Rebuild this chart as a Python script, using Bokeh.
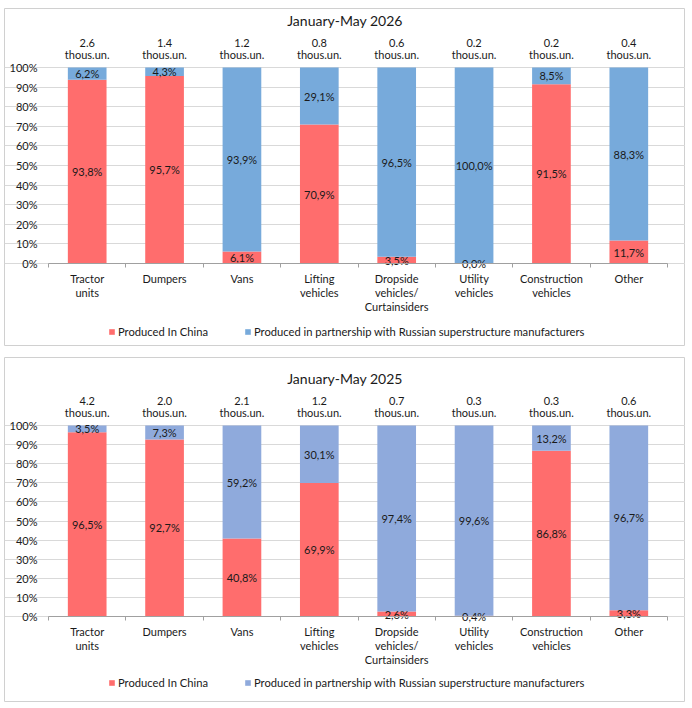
from bokeh.plotting import figure
from bokeh.models import (ColumnDataSource, Range1d, LinearAxis, FixedTicker, Grid,
                          NumeralTickFormatter, Legend, LegendItem)
from bokeh.layouts import column
from bokeh.embed import file_html
from bokeh.resources import INLINE
from bokeh.core.properties import value

# ---------------- data ----------------
categories = ["Tractor\nunits", "Dumpers", "Vans", "Lifting\nvehicles",
              "Dropside\nvehicles/\nCurtainsiders", "Utility\nvehicles",
              "Construction\nvehicles", "Other"]

title_2026 = "January-May 2026"
china_2026 = [93.8, 95.7, 6.1, 70.9, 3.5, 0.0, 91.5, 11.7]
partner_2026 = [6.2, 4.3, 93.9, 29.1, 96.5, 100.0, 8.5, 88.3]
total_2026 = [2.6, 1.4, 1.2, 0.8, 0.6, 0.2, 0.2, 0.4]

title_2025 = "January-May 2025"
china_2025 = [96.5, 92.7, 40.8, 69.9, 2.6, 0.4, 86.8, 3.3]
partner_2025 = [3.5, 7.3, 59.2, 30.1, 97.4, 99.6, 13.2, 96.7]
total_2025 = [4.2, 2.0, 2.1, 1.2, 0.7, 0.3, 0.3, 0.6]

unit_label = "thous.un."
legend_china = "Produced In China"
legend_partner = "Produced in partnership with Russian superstructure manufacturers"

# ---------------- style / layout (pixels) ----------------
FONT = "Lato"
RED = "#FF6D6D"
BLUE_2026 = "#77AADB"
BLUE_2025 = "#8FAADC"
TXT = "#1a1a1a"
W = 681            # panel width (panel border drawn as the frame outline)
PLOT_L = 44        # plot area left, from panel left
PLOT_R = 663       # plot area right, from panel left


def fmt(v):
    return ("%.1f" % v).replace(".", ",") + "%"


def make_panel(title, china, partner, totals, blue, H, top100, zero,
               label_standoff, legend_y):
    n = len(categories)
    upx = (PLOT_R - PLOT_L) / n          # pixels per category slot
    ppu = zero - top100                  # pixels per 100 %
    x_start = -PLOT_L / upx
    x_end = n + (W - PLOT_R) / upx
    y_end = 1 + top100 / ppu
    y_start = -(H - zero) / ppu
    slot = [i + 0.5 for i in range(n)]

    src = ColumnDataSource(dict(
        x=slot,
        china_top=[c / 100 for c in china],
        total_top=[(c + p) / 100 for c, p in zip(china, partner)],
        china_mid=[c / 200 for c in china],
        partner_mid=[(c + (c + p)) / 200 for c, p in zip(china, partner)],
        china_lbl=[fmt(c) for c in china],
        partner_lbl=[fmt(p) for p in partner],
        total_lbl=["%.1f" % t for t in totals],
        unit_lbl=[unit_label] * n,
        y_tot=[1 + 25 / ppu] * n,
        y_unit=[1 + 13 / ppu] * n,
    ))

    p = figure(width=W, height=H, x_range=Range1d(x_start, x_end),
               y_range=Range1d(y_start, y_end), output_backend="svg",
               toolbar_location=None, x_axis_location=None, y_axis_location=None,
               min_border=0, min_border_left=0, min_border_right=0,
               min_border_top=0, min_border_bottom=0)
    p.outline_line_color = "#d0d0d0"
    p.outline_line_width = 1
    p.background_fill_color = "white"
    p.border_fill_color = "white"
    p.xgrid.visible = False
    p.ygrid.visible = False

    # y axis (percent)
    ya = LinearAxis(ticker=FixedTicker(ticks=[i / 10 for i in range(11)]),
                    formatter=NumeralTickFormatter(format="0%"),
                    fixed_location=0, bounds=(0, 1))
    ya.axis_line_color = None
    ya.major_tick_line_color = None
    ya.minor_tick_line_color = None
    ya.major_tick_out = 0
    ya.major_tick_in = 0
    ya.major_label_standoff = 11
    ya.major_label_text_font = FONT
    ya.major_label_text_font_size = "11px"
    ya.major_label_text_color = TXT
    p.add_layout(ya, "left")
    g = Grid(dimension=1, ticker=ya.ticker, bounds=(0, n),
             grid_line_color="#d9d9d9")
    p.add_layout(g, "center")

    # category axis: labels at slot centres, tick marks between categories
    xa = LinearAxis(ticker=FixedTicker(ticks=slot, minor_ticks=list(range(n + 1))),
                    major_label_overrides={s: lbl for s, lbl in zip(slot, categories)},
                    fixed_location=0, bounds=(0, n))
    xa.axis_line_color = "#a0a0a0"
    xa.major_tick_line_color = None
    xa.minor_tick_line_color = "#a0a0a0"
    xa.minor_tick_out = 4
    xa.minor_tick_in = 0
    xa.major_tick_out = 0
    xa.major_tick_in = 0
    xa.major_label_standoff = label_standoff
    xa.major_label_text_font = FONT
    xa.major_label_text_font_size = "11px"
    xa.major_label_text_color = TXT
    xa.major_label_text_line_height = 1.1
    p.add_layout(xa, "below")

    r1 = p.vbar(x="x", bottom=0, top="china_top", width=0.5, fill_color=RED,
                line_color=None, source=src)
    r2 = p.vbar(x="x", bottom="china_top", top="total_top", width=0.5, fill_color=blue,
                line_color=None, source=src)

    common = dict(text_font=value(FONT), text_font_size="11px", text_color=TXT,
                  text_align="center", text_baseline="middle", source=src)
    p.text(x="x", y="china_mid", text="china_lbl", **common)
    p.text(x="x", y="partner_mid", text="partner_lbl", **common)
    p.text(x="x", y="y_tot", text="total_lbl", **common)
    p.text(x="x", y="y_unit", text="unit_lbl", **common)

    # title, centred on the panel
    title_x = x_start + (W / 2) / upx
    p.text(x=[title_x], y=[1 + 47 / ppu], text=[title],
           text_font=value(FONT), text_font_size="14px", text_color=TXT,
           text_align="center", text_baseline="middle")

    legend = Legend(items=[LegendItem(label=legend_china, renderers=[r1]),
                           LegendItem(label=legend_partner, renderers=[r2])],
                    location=(104, legend_y), orientation="horizontal",
                    glyph_width=7, glyph_height=7, label_standoff=3, spacing=36,
                    padding=0, margin=0, border_line_color=None,
                    background_fill_alpha=0, label_height=7,
                    label_text_font=FONT, label_text_font_size="11.2px",
                    label_text_color=TXT)
    p.add_layout(legend, "center")
    return p


p1 = make_panel(title_2026, china_2026, partner_2026, total_2026, BLUE_2026,
                H=338, top100=59, zero=255, label_standoff=4, legend_y=8)
p2 = make_panel(title_2025, china_2025, partner_2025, total_2025, BLUE_2025,
                H=345, top100=68, zero=259, label_standoff=4, legend_y=13)

layout = column(p1, p2, spacing=11, margin=(8, 0, 0, 4))
open("out.html", "w").write(file_html(layout, INLINE))
